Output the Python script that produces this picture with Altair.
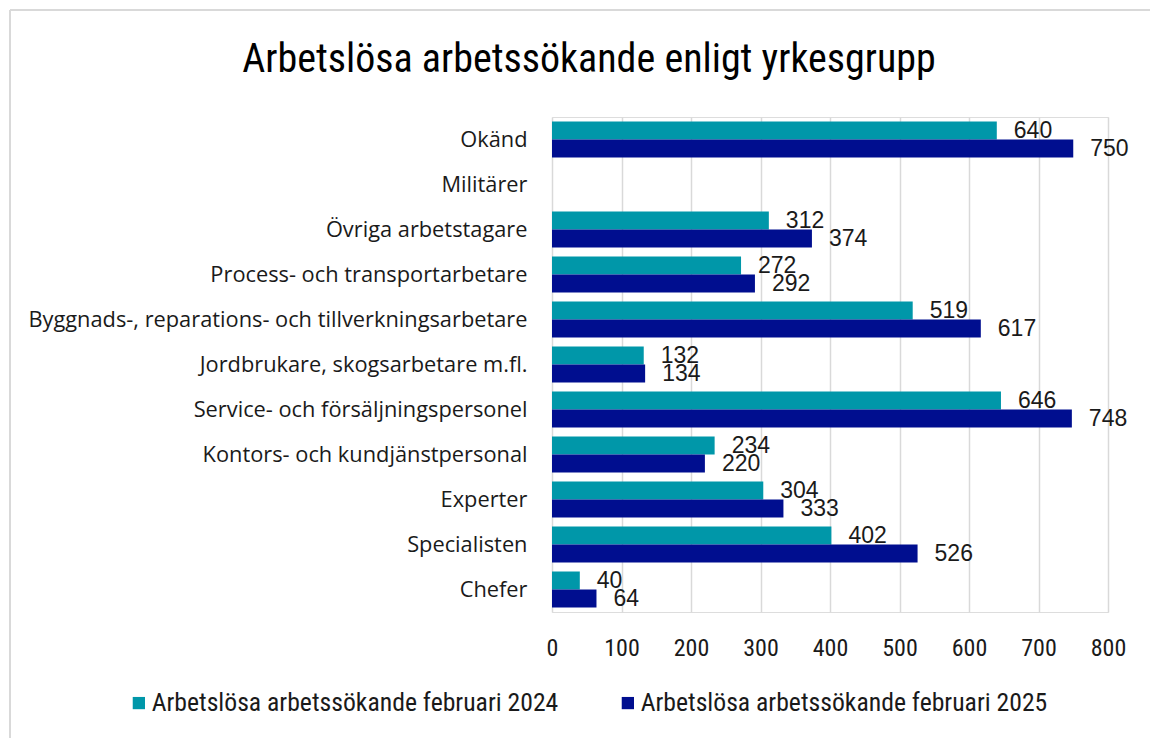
import altair as alt
import pandas as pd

categories = [
    "Okänd",
    "Militärer",
    "Övriga arbetstagare",
    "Process- och transportarbetare",
    "Byggnads-, reparations- och tillverkningsarbetare",
    "Jordbrukare, skogsarbetare m.fl.",
    "Service- och försäljningspersonel",
    "Kontors- och kundjänstpersonal",
    "Experter",
    "Specialisten",
    "Chefer",
]
series_names = [
    "Arbetslösa arbetssökande februari 2024",
    "Arbetslösa arbetssökande februari 2025",
]
values_2024 = [640, None, 312, 272, 519, 132, 646, 234, 304, 402, 40]
values_2025 = [750, None, 374, 292, 617, 134, 748, 220, 333, 526, 64]
x_ticks = [0, 100, 200, 300, 400, 500, 600, 700, 800]
colors = ["#0097A9", "#000E8F"]

rows = []
for c, v1, v2 in zip(categories, values_2024, values_2025):
    rows.append({"cat": c, "serie": series_names[0], "val": v1})
    rows.append({"cat": c, "serie": series_names[1], "val": v2})
df = pd.DataFrame(rows)
df_valid = df.dropna()

narrow = "Liberation Sans Narrow, Roboto Condensed, Liberation Sans"
plain = "Liberation Sans, Arial"
wide = "Open Sans, Liberation Sans"

y_scale = alt.Scale(domain=categories, paddingInner=0.2, paddingOuter=0.1)
off_scale = alt.Scale(domain=series_names, paddingInner=0, paddingOuter=0)

y_enc = alt.Y("cat:N", scale=y_scale,
              axis=alt.Axis(title=None, ticks=False, domain=False, labelFont=wide,
                            labelFontSize=21.8, labelColor="#1a1a1a", labelPadding=25,
                            labelLimit=600))
x_enc = alt.X("val:Q", scale=alt.Scale(domain=[0, 800], nice=False),
              axis=alt.Axis(title=None, values=x_ticks, ticks=False, domain=False,
                            grid=True, gridColor="#D9D9D9", gridWidth=1.5,
                            labelFont=narrow, labelFontSize=24, labelColor="#1a1a1a",
                            labelPadding=24, labelFlush=False))
color_enc = alt.Color("serie:N", scale=alt.Scale(domain=series_names, range=colors),
                      legend=alt.Legend(title=None, orient="none", direction="horizontal",
                                        legendX=-426, legendY=573, padding=0,
                                        symbolType="square",
                                        symbolSize=150, symbolStrokeWidth=0,
                                        labelFont=narrow, labelFontSize=25.7,
                                        labelColor="#1a1a1a", labelLimit=700,
                                        columnPadding=56, labelOffset=0))

bars = alt.Chart(df_valid).mark_bar(size=18).encode(
    y=y_enc, x=x_enc, color=color_enc,
    yOffset=alt.YOffset("serie:N", scale=off_scale),
)

labels = alt.Chart(df_valid).mark_text(align="left", baseline="middle", dx=17,
                                        font=plain, fontSize=23, color="#1a1a1a").encode(
    y=alt.Y("cat:N", scale=y_scale),
    x=alt.X("val:Q"),
    yOffset=alt.YOffset("serie:N", scale=off_scale),
    text=alt.Text("val:Q", format="d"),
)

frame_top = alt.Chart(df_valid).mark_rule(color="#D9D9D9", strokeWidth=1.5).encode(
    x=alt.value(-542), x2=alt.value(600), y=alt.value(-107))
frame_left = alt.Chart(df_valid).mark_rule(color="#D9D9D9", strokeWidth=1.5).encode(
    x=alt.value(-542), y=alt.value(-107), y2=alt.value(625))

chart = alt.layer(frame_top, frame_left, bars, labels).properties(
    width=556, height=495,
    autosize=alt.AutoSizeParams(type="none"),
    padding={"left": 552, "top": 117, "right": 42, "bottom": 126},
    title=alt.TitleParams("Arbetslösa arbetssökande enligt yrkesgrupp", font=narrow,
                          fontSize=40, fontWeight="normal", color="#000000",
                          anchor="middle", frame="group", dx=-241, dy=107, offset=36),
).configure_view(stroke=None).configure(background="white")

chart.save("out.html", embed_options={"renderer": "svg", "actions": False})
